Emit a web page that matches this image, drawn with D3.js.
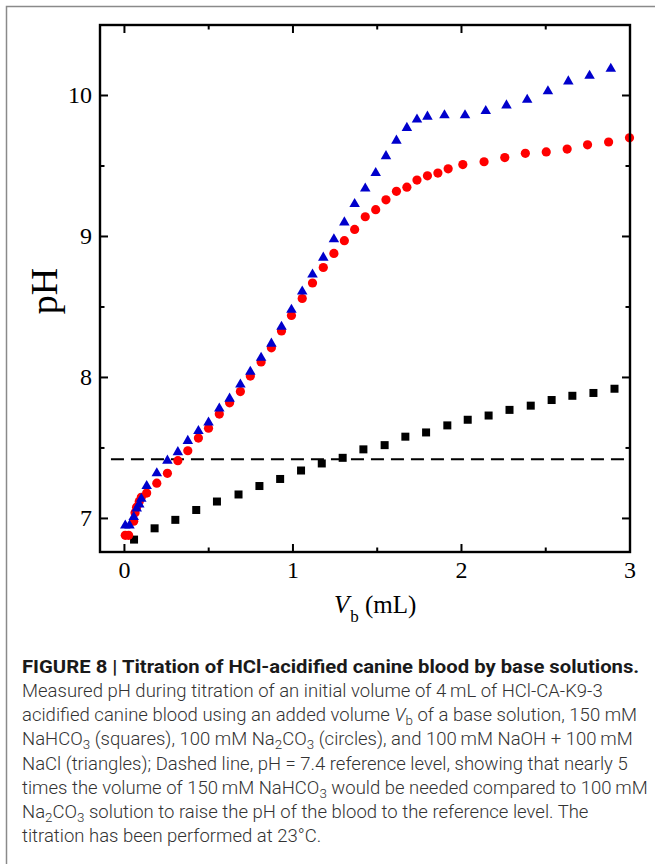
<!DOCTYPE html>
<html lang="en">
<head>
<meta charset="UTF-8">
<title>Figure 8 - Titration</title>
<script src="https://d3js.org/d3.v7.min.js"></script>
<style>
  body { margin: 0; background: #fff; }
  .tick-label { font-family: "Liberation Serif", "Times New Roman", serif; font-size: 24px; fill: #000; }
  .axis-title { font-family: "Liberation Serif", "Times New Roman", serif; fill: #000; }
  .caption { font-family: Roboto, "Liberation Sans", sans-serif; font-size: 18px; font-weight: 300; fill: #333; }
  .caption-head { font-family: Roboto, "Liberation Sans", sans-serif; font-size: 18px; font-weight: bold; fill: #1a1a1a; }
</style>
</head>
<body>
<svg width="655" height="864"></svg>
<script>
// 150 mM NaHCO3 (squares)
const sqV  = [0.057, 0.179, 0.302, 0.426, 0.549, 0.677, 0.801, 0.924, 1.048, 1.171, 1.295, 1.418,
              1.544, 1.667, 1.790, 1.916, 2.037, 2.161, 2.285, 2.411, 2.535, 2.658, 2.783, 2.908];
const sqPH = [6.85, 6.93, 6.99, 7.06, 7.12, 7.17, 7.23, 7.28, 7.34, 7.39, 7.43, 7.49,
              7.52, 7.58, 7.61, 7.66, 7.70, 7.73, 7.77, 7.80, 7.84, 7.87, 7.89, 7.92];

// 100 mM Na2CO3 (circles)
const circV  = [0.005, 0.025, 0.055, 0.063, 0.072, 0.088, 0.10, 0.132, 0.192, 0.255, 0.317, 0.376,
                0.439, 0.499, 0.563, 0.624, 0.688, 0.747, 0.811, 0.872, 0.932, 0.991, 1.055, 1.116,
                1.180, 1.243, 1.305, 1.366, 1.429, 1.491, 1.552, 1.614, 1.676, 1.736, 1.798, 1.860,
                1.921, 2.008, 2.134, 2.257, 2.379, 2.503, 2.627, 2.748, 2.873, 2.997];
const circPH = [6.88, 6.88, 6.98, 7.04, 7.08, 7.12, 7.15, 7.18, 7.25, 7.32, 7.41, 7.48,
                7.57, 7.64, 7.74, 7.82, 7.90, 8.01, 8.11, 8.21, 8.33, 8.44, 8.56, 8.67,
                8.78, 8.88, 8.97, 9.05, 9.14, 9.19, 9.26, 9.32, 9.35, 9.40, 9.43, 9.45,
                9.48, 9.51, 9.53, 9.56, 9.59, 9.60, 9.62, 9.65, 9.67, 9.70];

// 100 mM NaOH + 100 mM NaCl (triangles)
const triV  = [0.005, 0.03, 0.055, 0.073, 0.088, 0.10, 0.132, 0.192, 0.255, 0.317, 0.376, 0.439,
               0.499, 0.563, 0.624, 0.688, 0.747, 0.811, 0.872, 0.932, 0.991, 1.055, 1.116, 1.180,
               1.243, 1.305, 1.366, 1.429, 1.491, 1.552, 1.614, 1.676, 1.736, 1.798, 1.899, 2.021,
               2.144, 2.267, 2.390, 2.513, 2.634, 2.760, 2.886];
const triPH = [6.95, 6.95, 7.01, 7.07, 7.10, 7.14, 7.23, 7.32, 7.41, 7.47, 7.55, 7.62,
               7.68, 7.78, 7.85, 7.95, 8.04, 8.14, 8.24, 8.36, 8.48, 8.61, 8.73, 8.85,
               8.98, 9.10, 9.23, 9.34, 9.45, 9.57, 9.68, 9.77, 9.83, 9.85, 9.86, 9.86,
               9.89, 9.93, 9.97, 10.03, 10.10, 10.14, 10.19];

// reference level
const refPH = 7.42;
const refRange = [-0.08, 3.0];

const xTicks = [0, 1, 2, 3];
const xMinor = [0.5, 1.5, 2.5];
const yTicks = [7, 8, 9, 10];
const yMinor = [7.5, 8.5, 9.5];

// caption: strings are plain text, {s:..} subscript, {i:..} italic
const captionHead = "FIGURE 8 | Titration of HCl-acidified canine blood by base solutions.";
const captionLines = [
  ["Measured pH during titration of an initial volume of 4\u2009mL of HCl-CA-K9-3"],
  ["acidified canine blood using an added volume ", {i: "V"}, {s: "b"}, " of a base solution, 150 mM"],
  ["NaHCO", {s: "3"}, " (squares), 100 mM Na", {s: "2"}, "CO", {s: "3"}, " (circles), and 100\u2009mM NaOH + 100\u2009mM"],
  ["NaCl (triangles); Dashed line, pH = 7.4 reference level, showing that nearly 5"],
  ["times the volume of 150\u2009mM NaHCO", {s: "3"}, " would be needed compared to 100\u2009mM"],
  ["Na", {s: "2"}, "CO", {s: "3"}, " solution to raise the pH of the blood to the reference level. The"],
  ["titration has been performed at 23\u00B0C."]
];

const svg = d3.select("svg");

// outer figure border
svg.append("rect")
   .attr("x", 6.5).attr("y", 6.5)
   .attr("width", 700).attr("height", 900)
   .attr("fill", "none")
   .attr("stroke", "#8a8a8a")
   .attr("stroke-width", 1.5);

const pLeft = 100, pTop = 25, pRight = 630, pBottom = 552;

const x = d3.scaleLinear().domain([-0.145, 3.0]).range([pLeft, pRight]);
const y = d3.scaleLinear().domain([6.762, 10.5]).range([pBottom, pTop]);

const plot = svg.append("g");

// reference dashed line
plot.append("line")
    .attr("x1", x(refRange[0])).attr("x2", x(refRange[1]))
    .attr("y1", y(refPH)).attr("y2", y(refPH))
    .attr("stroke", "#000")
    .attr("stroke-width", 2)
    .attr("stroke-dasharray", "13,7");

// squares
const sq = 8;
plot.selectAll(".sq")
    .data(d3.zip(sqV, sqPH))
    .join("rect")
      .attr("class", "sq")
      .attr("x", d => x(d[0]) - sq / 2)
      .attr("y", d => y(d[1]) - sq / 2)
      .attr("width", sq).attr("height", sq)
      .attr("fill", "#000");

// circles
plot.selectAll(".circ")
    .data(d3.zip(circV, circPH))
    .join("circle")
      .attr("class", "circ")
      .attr("cx", d => x(d[0]))
      .attr("cy", d => y(d[1]))
      .attr("r", 4.6)
      .attr("fill", "#ff0000");

// triangles
const tri = d3.symbol().type(d3.symbolTriangle).size(48);
plot.selectAll(".tri")
    .data(d3.zip(triV, triPH))
    .join("path")
      .attr("class", "tri")
      .attr("transform", d => `translate(${x(d[0])},${y(d[1])})`)
      .attr("d", tri)
      .attr("fill", "#0000cc");

// ticks, all four sides pointing inward
const axes = svg.append("g").attr("stroke", "#000").attr("stroke-width", 2);
function xTick(v, len) {
  axes.append("line").attr("x1", x(v)).attr("x2", x(v)).attr("y1", pBottom).attr("y2", pBottom - len);
  axes.append("line").attr("x1", x(v)).attr("x2", x(v)).attr("y1", pTop).attr("y2", pTop + len);
}
function yTick(v, len) {
  axes.append("line").attr("y1", y(v)).attr("y2", y(v)).attr("x1", pLeft).attr("x2", pLeft + len);
  axes.append("line").attr("y1", y(v)).attr("y2", y(v)).attr("x1", pRight).attr("x2", pRight - len);
}
xTicks.forEach(v => xTick(v, 8));
xMinor.forEach(v => xTick(v, 4.5));
yTicks.forEach(v => yTick(v, 8));
yMinor.forEach(v => yTick(v, 4.5));

// frame
svg.append("rect")
   .attr("x", pLeft).attr("y", pTop)
   .attr("width", pRight - pLeft).attr("height", pBottom - pTop)
   .attr("fill", "none")
   .attr("stroke", "#000")
   .attr("stroke-width", 2.4);

// tick labels
svg.selectAll(".xl")
   .data(xTicks)
   .join("text")
     .attr("class", "tick-label")
     .attr("x", d => x(d))
     .attr("y", 578)
     .attr("text-anchor", "middle")
     .text(d => d);

svg.selectAll(".yl")
   .data(yTicks)
   .join("text")
     .attr("class", "tick-label")
     .attr("x", 92)
     .attr("y", d => y(d) + 8)
     .attr("text-anchor", "end")
     .text(d => d);

// axis titles
svg.append("text")
   .attr("class", "axis-title")
   .attr("transform", "translate(57,291) rotate(-90)")
   .attr("text-anchor", "middle")
   .attr("font-size", 38)
   .text("pH");

const xt = svg.append("text")
   .attr("class", "axis-title")
   .attr("x", 334).attr("y", 613)
   .attr("font-size", 25);
xt.append("tspan").attr("font-style", "italic").text("V");
xt.append("tspan").attr("font-size", 17).attr("dy", 9).attr("dx", 1).text("b");
xt.append("tspan").attr("dy", -9).text(" (mL)");

// caption
const cap = svg.append("g");
const head = cap.append("text")
   .attr("class", "caption-head")
   .attr("x", 0).attr("y", 673)
   .text(captionHead);

const body = cap.append("g");
captionLines.forEach((segs, i) => {
  const t = body.append("text").attr("class", "caption").attr("x", 0).attr("y", 697 + i * 24.2);
  let shifted = false;
  segs.forEach(sg => {
    if (typeof sg === "string") {
      t.append("tspan").attr("dy", shifted ? -4 : 0).text(sg);
      shifted = false;
    } else if (sg.s !== undefined) {
      t.append("tspan").attr("font-size", 13).attr("dy", shifted ? 0 : 4).text(sg.s);
      shifted = true;
    } else {
      t.append("tspan").attr("font-style", "italic").attr("dy", shifted ? -4 : 0).text(sg.i);
      shifted = false;
    }
  });
});

// fit caption widths to the figure column
const headW = head.node().getComputedTextLength();
head.attr("transform", `translate(22,0) scale(${618 / headW},1)`);
const refW = body.selectAll("text").nodes()[2].getComputedTextLength();
body.attr("transform", `translate(22,0) scale(${611 / refW},1)`);
</script>
</body>
</html>
